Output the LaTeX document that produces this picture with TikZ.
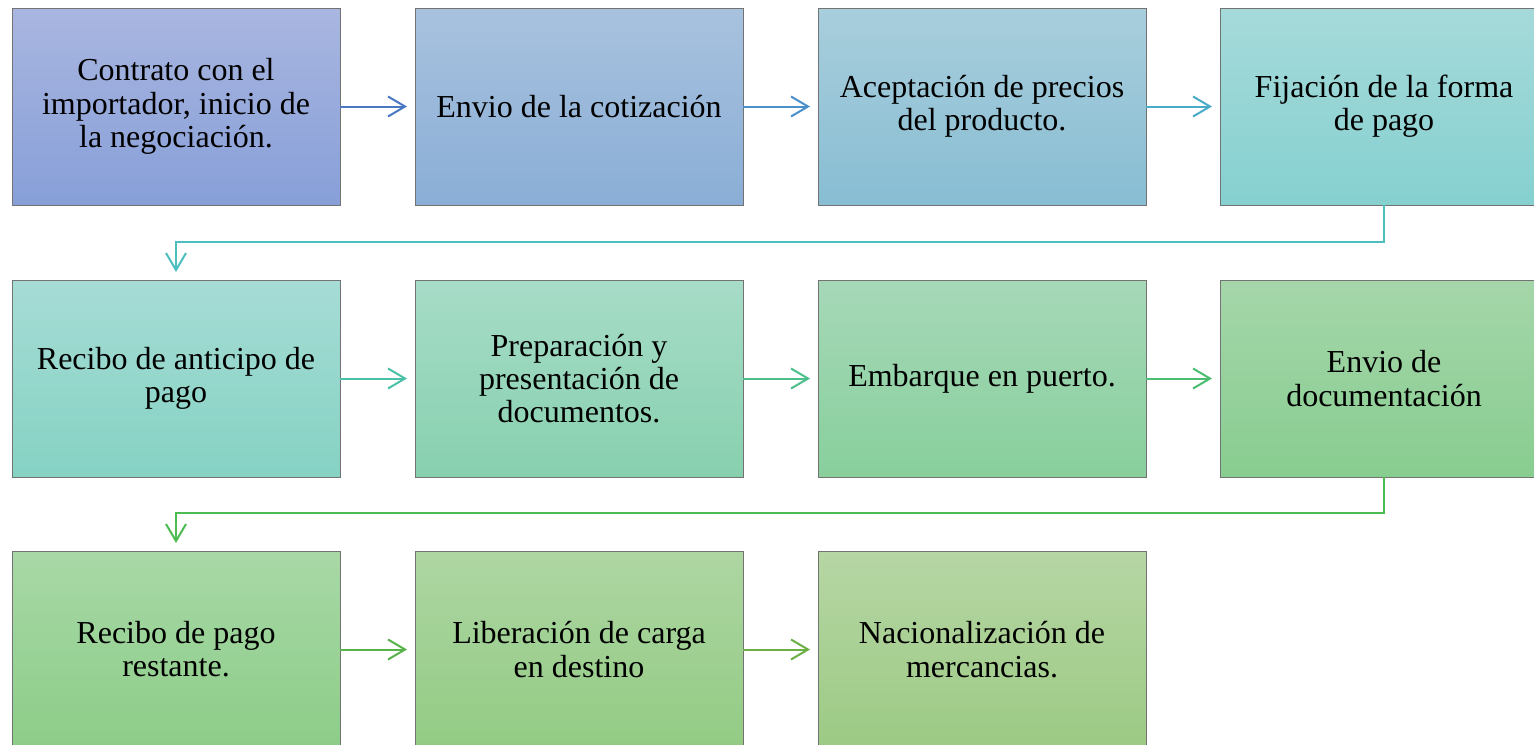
\documentclass[tikz,border=0pt]{standalone}
\usepackage{fontspec}
\setmainfont{Liberation Serif}
\definecolor{topA}{HTML}{A9B6E0}\definecolor{botA}{HTML}{879FD8}
\definecolor{topB}{HTML}{A8C2DE}\definecolor{botB}{HTML}{8AAED6}
\definecolor{topC}{HTML}{A8CEDC}\definecolor{botC}{HTML}{88BDD3}
\definecolor{topD}{HTML}{A6DADA}\definecolor{botD}{HTML}{86D0D0}
\definecolor{topE}{HTML}{A6DCD5}\definecolor{botE}{HTML}{85D2C3}
\definecolor{topF}{HTML}{A7DCC8}\definecolor{botF}{HTML}{87D0AE}
\definecolor{topG}{HTML}{A6D8B8}\definecolor{botG}{HTML}{88CF9C}
\definecolor{topH}{HTML}{A5D6AA}\definecolor{botH}{HTML}{88CD90}
\definecolor{topI}{HTML}{A8D8A6}\definecolor{botI}{HTML}{8CCD88}
\definecolor{topJ}{HTML}{AED6A2}\definecolor{botJ}{HTML}{92CB84}
\definecolor{topK}{HTML}{B6D6A4}\definecolor{botK}{HTML}{9CCA84}
\definecolor{arrA}{HTML}{4A78C2}
\definecolor{arrB}{HTML}{4A90CB}
\definecolor{arrC}{HTML}{4AABC8}
\definecolor{arrD}{HTML}{4BBFBF}
\definecolor{arrE}{HTML}{4BC0A8}
\definecolor{arrF}{HTML}{4CBF8A}
\definecolor{arrG}{HTML}{4CBD70}
\definecolor{arrH}{HTML}{4CBB50}
\definecolor{arrI}{HTML}{58B34A}
\definecolor{arrJ}{HTML}{6BAF45}
\usepackage{tikz}
\usetikzlibrary{arrows.meta, positioning, calc}

\begin{document}
\begin{tikzpicture}[
  x=0.5pt, y=-0.5pt,
  nd/.style 2 args={draw=black!55, line width=0.5pt, top color=#1, bottom color=#2, minimum width=164pt, minimum height=98.5pt, inner sep=0pt, outer sep=0pt, align=center, font=\fontsize{16}{16.6}\selectfont},
  arr/.style={-{Straight Barb[length=8.5pt, width=10pt]}, line width=1pt, shorten >=4pt},
]
  \useasboundingbox (0,0) rectangle (1534,744);
  \node[nd={topA}{botA}] (contrato) at (176, 106.5) {Contrato con el\\importador, inicio de\\la negociación.};
  \node[nd={topB}{botB}] (envio) at (579, 106.5) {Envio de la cotización};
  \node[nd={topC}{botC}] (acepta) at (982, 106.5) {Aceptación de precios\\del producto.};
  \node[nd={topD}{botD}] (fija) at (1384, 106.5) {Fijación de la forma\\de pago};

  \node[nd={topE}{botE}] (anticipo) at (176, 378.5) {Recibo de anticipo de\\pago};
  \node[nd={topF}{botF}] (prepara) at (579, 378.5) {Preparación y\\presentación de\\documentos.};
  \node[nd={topG}{botG}] (embarque) at (982, 378.5) {Embarque en puerto.};
  \node[nd={topH}{botH}] (docs) at (1384, 378.5) {Envio de\\documentación};

  \node[nd={topI}{botI}] (restante) at (176, 649.5) {Recibo de pago\\restante.};
  \node[nd={topJ}{botJ}] (libera) at (579, 649.5) {Liberación de carga\\en destino};
  \node[nd={topK}{botK}] (nacional) at (982, 649.5) {Nacionalización de\\mercancias.};

  \draw[arr, arrA] (contrato) -- (envio);
  \draw[arr, arrB] (envio) -- (acepta);
  \draw[arr, arrC] (acepta) -- (fija);
  \draw[arr, arrD] (fija.south) -- ++(0,37) -| (anticipo.north);
  \draw[arr, arrE] (anticipo) -- (prepara);
  \draw[arr, arrF] (prepara) -- (embarque);
  \draw[arr, arrG] (embarque) -- (docs);
  \draw[arr, arrH] (docs.south) -- ++(0,36) -| (restante.north);
  \draw[arr, arrI] (restante) -- (libera);
  \draw[arr, arrJ] (libera) -- (nacional);
\end{tikzpicture}
\end{document}
